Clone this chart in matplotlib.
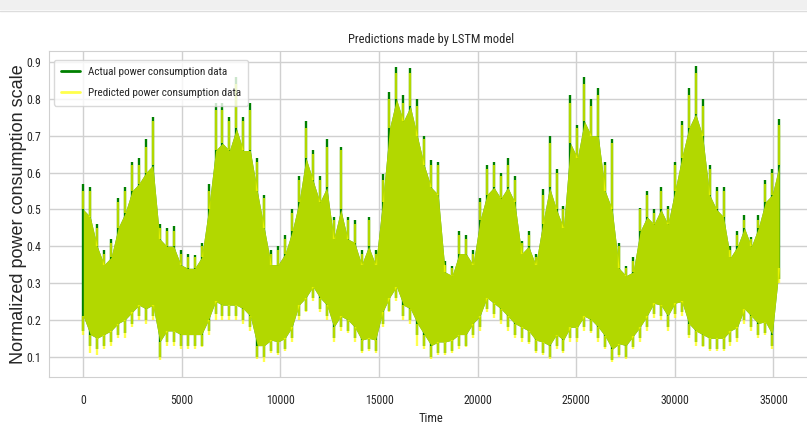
#!/usr/bin/env python3
"""
Actual vs LSTM-predicted normalized power consumption over the test period.
"""

import matplotlib
matplotlib.use("Agg")
import matplotlib.pyplot as plt
import numpy as np
import seaborn as sns
from matplotlib import font_manager
from matplotlib.lines import Line2D
from matplotlib.patches import Rectangle

# per 350-sample bin:
# troughs / peaks = extreme values of each series in the bin,
# dense_low / dense_high = band where both series oscillate densely
actual_troughs = [
    0.17, 0.13, 0.12, 0.13, 0.14, 0.16, 0.165, 0.19, 0.21, 0.20,
    0.21, 0.10, 0.14, 0.14, 0.13, 0.13, 0.13, 0.13, 0.17, 0.215,
    0.21, 0.21, 0.21, 0.20, 0.18, 0.10, 0.10, 0.115, 0.11, 0.12,
    0.15, 0.21, 0.225, 0.26, 0.23, 0.21, 0.15, 0.18, 0.17, 0.15,
    0.115, 0.12, 0.115, 0.19, 0.225, 0.26, 0.21, 0.20, 0.16, 0.13,
    0.10, 0.11, 0.11, 0.115, 0.13, 0.13, 0.16, 0.18, 0.23, 0.215,
    0.20, 0.18, 0.16, 0.15, 0.14, 0.115, 0.11, 0.10, 0.13, 0.115,
    0.15, 0.15, 0.18, 0.17, 0.15, 0.125, 0.09, 0.105, 0.10, 0.125,
    0.15, 0.18, 0.215, 0.21, 0.18, 0.215, 0.22, 0.16, 0.14, 0.13,
    0.12, 0.12, 0.12, 0.14, 0.15, 0.20, 0.18, 0.16, 0.165, 0.13,
    0.31,
]
actual_peaks = [
    0.57, 0.56, 0.46, 0.39, 0.42, 0.53, 0.56, 0.63, 0.64, 0.69,
    0.75, 0.46, 0.45, 0.455, 0.39, 0.38, 0.375, 0.41, 0.57, 0.79,
    0.79, 0.75, 0.86, 0.75, 0.79, 0.64, 0.54, 0.39, 0.40, 0.43,
    0.50, 0.59, 0.74, 0.66, 0.59, 0.69, 0.48, 0.67, 0.48, 0.47,
    0.39, 0.48, 0.39, 0.595, 0.82, 0.887, 0.81, 0.885, 0.80, 0.70,
    0.635, 0.63, 0.36, 0.345, 0.44, 0.43, 0.39, 0.53, 0.62, 0.63,
    0.60, 0.64, 0.59, 0.415, 0.44, 0.38, 0.555, 0.70, 0.61, 0.51,
    0.81, 0.73, 0.86, 0.80, 0.83, 0.63, 0.69, 0.41, 0.345, 0.37,
    0.505, 0.55, 0.50, 0.56, 0.51, 0.63, 0.74, 0.83, 0.89, 0.80,
    0.62, 0.56, 0.56, 0.40, 0.44, 0.485, 0.425, 0.485, 0.58, 0.61,
    0.745,
]
predicted_troughs = [
    0.16, 0.11, 0.105, 0.12, 0.13, 0.15, 0.15, 0.18, 0.20, 0.19,
    0.20, 0.09, 0.13, 0.13, 0.12, 0.12, 0.12, 0.125, 0.16, 0.20,
    0.20, 0.20, 0.20, 0.19, 0.17, 0.095, 0.085, 0.11, 0.105, 0.115,
    0.14, 0.20, 0.22, 0.25, 0.22, 0.20, 0.14, 0.17, 0.165, 0.14,
    0.11, 0.115, 0.11, 0.18, 0.22, 0.25, 0.20, 0.19, 0.13, 0.12,
    0.095, 0.105, 0.105, 0.11, 0.12, 0.125, 0.15, 0.17, 0.22, 0.205,
    0.19, 0.17, 0.15, 0.14, 0.135, 0.11, 0.105, 0.095, 0.12, 0.11,
    0.14, 0.14, 0.17, 0.165, 0.14, 0.12, 0.085, 0.10, 0.095, 0.12,
    0.14, 0.17, 0.205, 0.20, 0.17, 0.205, 0.21, 0.15, 0.13, 0.125,
    0.115, 0.115, 0.115, 0.13, 0.14, 0.19, 0.17, 0.15, 0.16, 0.12,
    0.30,
]
predicted_peaks = [
    0.55, 0.55, 0.45, 0.38, 0.41, 0.52, 0.55, 0.62, 0.62, 0.67,
    0.74, 0.45, 0.44, 0.44, 0.38, 0.37, 0.37, 0.40, 0.55, 0.77,
    0.77, 0.74, 0.84, 0.74, 0.77, 0.63, 0.53, 0.38, 0.39, 0.42,
    0.49, 0.58, 0.72, 0.65, 0.58, 0.67, 0.47, 0.66, 0.47, 0.46,
    0.38, 0.47, 0.38, 0.58, 0.80, 0.87, 0.79, 0.87, 0.78, 0.69,
    0.62, 0.62, 0.35, 0.34, 0.43, 0.42, 0.38, 0.52, 0.61, 0.62,
    0.59, 0.62, 0.58, 0.41, 0.43, 0.37, 0.54, 0.68, 0.60, 0.50,
    0.79, 0.72, 0.84, 0.78, 0.81, 0.62, 0.68, 0.40, 0.34, 0.36,
    0.50, 0.54, 0.49, 0.55, 0.50, 0.62, 0.73, 0.81, 0.87, 0.78,
    0.61, 0.55, 0.55, 0.39, 0.43, 0.47, 0.42, 0.47, 0.57, 0.60,
    0.73,
]
dense_low = [
    0.21, 0.16, 0.15, 0.16, 0.17, 0.19, 0.20, 0.22, 0.24, 0.23,
    0.24, 0.14, 0.17, 0.17, 0.16, 0.16, 0.16, 0.16, 0.20, 0.25,
    0.24, 0.24, 0.24, 0.23, 0.21, 0.13, 0.13, 0.145, 0.14, 0.15,
    0.18, 0.24, 0.26, 0.29, 0.26, 0.24, 0.18, 0.21, 0.20, 0.18,
    0.145, 0.15, 0.145, 0.22, 0.26, 0.29, 0.24, 0.23, 0.19, 0.16,
    0.13, 0.14, 0.14, 0.145, 0.16, 0.16, 0.19, 0.21, 0.26, 0.245,
    0.23, 0.21, 0.19, 0.18, 0.17, 0.145, 0.14, 0.13, 0.16, 0.145,
    0.18, 0.18, 0.21, 0.20, 0.18, 0.155, 0.12, 0.135, 0.13, 0.155,
    0.18, 0.21, 0.245, 0.24, 0.21, 0.245, 0.25, 0.19, 0.17, 0.16,
    0.15, 0.15, 0.15, 0.17, 0.18, 0.23, 0.21, 0.19, 0.195, 0.16,
    0.34,
]
dense_high = [
    0.50, 0.48, 0.40, 0.35, 0.37, 0.45, 0.49, 0.55, 0.57, 0.60,
    0.62, 0.42, 0.40, 0.40, 0.35, 0.34, 0.34, 0.37, 0.50, 0.66,
    0.68, 0.66, 0.72, 0.66, 0.66, 0.55, 0.45, 0.35, 0.35, 0.38,
    0.44, 0.52, 0.64, 0.58, 0.52, 0.56, 0.42, 0.50, 0.42, 0.41,
    0.35, 0.40, 0.35, 0.52, 0.72, 0.80, 0.74, 0.78, 0.70, 0.62,
    0.56, 0.54, 0.33, 0.32, 0.38, 0.38, 0.35, 0.47, 0.54, 0.56,
    0.53, 0.56, 0.52, 0.38, 0.40, 0.35, 0.46, 0.56, 0.50, 0.45,
    0.68, 0.64, 0.74, 0.70, 0.70, 0.55, 0.50, 0.34, 0.32, 0.33,
    0.44, 0.48, 0.46, 0.50, 0.46, 0.55, 0.64, 0.72, 0.76, 0.70,
    0.54, 0.50, 0.48, 0.37, 0.40, 0.45, 0.40, 0.45, 0.52, 0.54,
    0.62,
]
n_time_steps = 35290

title = "Predictions made by LSTM model"
x_label = "Time"
y_label = "Normalized power consumption scale"
actual_label = "Actual power consumption data"
predicted_label = "Predicted power consumption data"


def pick_narrow_font():
    names = {f.name for f in font_manager.fontManager.ttflist}
    for cand in ("Liberation Sans Narrow", "Arial Narrow", "Roboto Condensed", "Open Sans Condensed"):
        if cand in names:
            return cand, 1.0
    return "Liberation Sans", 0.9


def main() -> int:
    sns.set_style("whitegrid")
    narrow, k = pick_narrow_font()
    plt.rcParams["font.family"] = [narrow, "Liberation Sans", "DejaVu Sans"]

    t = np.linspace(0, n_time_steps, len(actual_peaks))

    W, H = 807, 424
    fig = plt.figure(figsize=(W / 100, H / 100), dpi=100)
    ax = fig.add_axes([48.5 / W, 47 / H, 765.5 / W, 326 / H])

    green = "green"
    yellow = "yellow"
    a = 0.7
    spike_lw = 1.7

    # actual series: dense band + spikes out to the bin extremes
    ax.vlines(t, actual_troughs, actual_peaks, color=green, linewidth=spike_lw, zorder=2)
    ax.fill_between(t, dense_low, dense_high, color=green, linewidth=0, zorder=2)

    # predicted series on top, semi-transparent (spikes kept outside the band
    # so the alpha does not stack)
    ax.fill_between(t, dense_low, dense_high, color=yellow, alpha=a, linewidth=0, zorder=3)
    ax.vlines(t, dense_high, predicted_peaks, color=yellow, alpha=a, linewidth=spike_lw, zorder=3)
    ax.vlines(t, predicted_troughs, dense_low, color=yellow, alpha=a, linewidth=spike_lw, zorder=3)

    ax.set_title(title, fontsize=9 * k, color="#262626", pad=6)
    ax.set_xlabel(x_label, fontsize=9 * k, color="#262626", labelpad=4)
    ax.set_ylabel(y_label, fontsize=13, color="#262626", labelpad=0,
                  family=["Liberation Sans", "DejaVu Sans"])

    ax.tick_params(axis="x", length=0, pad=12, labelsize=8.5 * k, labelcolor="#262626")
    ax.tick_params(axis="y", length=0, pad=5, labelsize=8.5 * k, labelcolor="#262626")
    ax.grid(True, color="#d0d0d0", linewidth=1.0)
    ax.set_axisbelow(True)
    for s in ax.spines.values():
        s.set_color("#d0d0d0")

    handles = [
        Line2D([], [], color=green, linewidth=2.0),
        Line2D([], [], color=yellow, alpha=a, linewidth=2.0),
    ]
    leg = ax.legend(handles, [actual_label, predicted_label],
                    loc="upper left", bbox_to_anchor=(5.5 / 765.5, 1 - 9 / 326), borderaxespad=0,
                    fontsize=8 * k, handlelength=1.7, handletextpad=0.7, labelspacing=1.0,
                    borderpad=0.65, frameon=True, edgecolor="#d0d0d0")
    leg.set_zorder(5)

    # notebook-style strip along the top of the screenshot
    fig.add_artist(Rectangle((0, 1 - 10 / H), 1, 10 / H, transform=fig.transFigure,
                             facecolor="#f0f0f0", edgecolor="none"))
    fig.add_artist(Line2D([0, 1], [1 - 10.5 / H] * 2, transform=fig.transFigure,
                          color="#dddddd", linewidth=1))

    fig.savefig("out.png", dpi=100)
    plt.close(fig)
    return 0


if __name__ == "__main__":
    raise SystemExit(main())
